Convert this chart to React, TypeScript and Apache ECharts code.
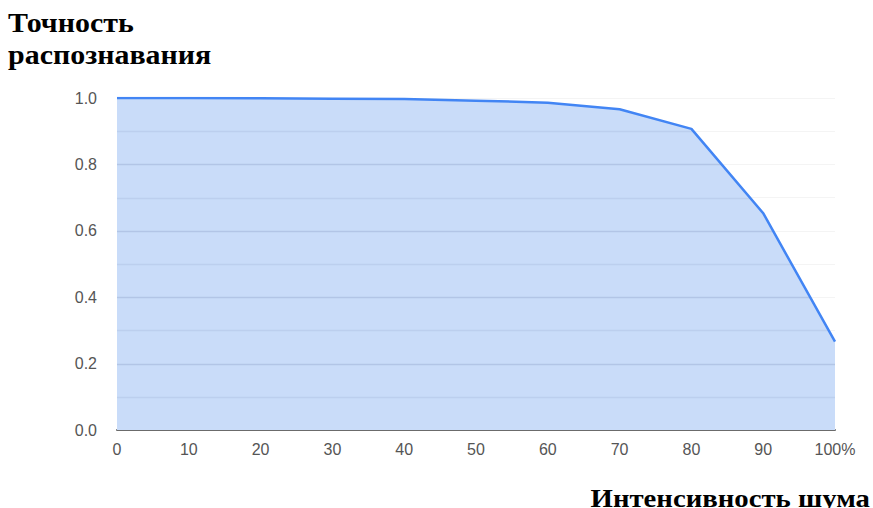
import React, { useEffect, useRef } from "react";
import * as echarts from "echarts";

const noiseLevels = [0, 10, 20, 30, 40, 50, 60, 70, 80, 90, 100];
const accuracy = [1.0, 1.0, 0.999, 0.998, 0.997, 0.992, 0.986, 0.966, 0.907, 0.653, 0.266];
const gridLevels = [0.1, 0.2, 0.3, 0.4, 0.5, 0.6, 0.7, 0.8, 0.9];
const yTitleLines = ["Точность", "распознавания"];
const xTitle = "Интенсивность шума";

function crossX(level: number): number {
  for (let i = 0; i < accuracy.length - 1; i++) {
    const a = accuracy[i];
    const b = accuracy[i + 1];
    if ((a >= level && b <= level) || (a <= level && b >= level)) {
      if (a === b) return noiseLevels[i + 1];
      const t = (a - level) / (a - b);
      return noiseLevels[i] + t * (noiseLevels[i + 1] - noiseLevels[i]);
    }
  }
  return noiseLevels[noiseLevels.length - 1];
}

export default function App() {
  const ref = useRef<HTMLDivElement>(null);
  useEffect(() => {
    if (!ref.current) return;
    const chart = echarts.init(ref.current, undefined, { renderer: "svg" });
    const labelFont = "Liberation Sans";
    chart.setOption({
      animation: false,
      backgroundColor: "#ffffff",
      grid: { left: 117, right: 38, top: 98, bottom: 78, containLabel: false },
      xAxis: {
        type: "value",
        min: 0,
        max: 100,
        interval: 10,
        axisLine: { show: true, lineStyle: { color: "#6b6b6b", width: 2 } },
        axisTick: { show: false },
        splitLine: { show: false },
        axisLabel: {
          color: "#555555",
          fontFamily: labelFont,
          fontSize: 16,
          margin: 11,
          formatter: (v: number) => (v === 100 ? "100%" : String(v)),
        },
      },
      yAxis: {
        type: "value",
        min: 0,
        max: 1,
        interval: 0.1,
        axisLine: { show: false },
        axisTick: { show: false },
        splitLine: { show: true, lineStyle: { color: "#f4f4f4", width: 1 } },
        axisLabel: {
          color: "#555555",
          fontFamily: labelFont,
          fontSize: 16,
          margin: 20,
          formatter: (v: number) => {
            const k = Math.round(v * 10);
            return k % 2 === 0 ? (k / 10).toFixed(1) : "";
          },
        },
      },
      series: [
        {
          type: "line",
          data: noiseLevels.map((x, i) => [x, accuracy[i]]),
          showSymbol: false,
          lineStyle: { width: 0, opacity: 0 },
          areaStyle: { color: "#c9dcf9", opacity: 1 },
          z: 1,
          silent: true,
        },
        {
          type: "custom",
          data: gridLevels.map((v) => [0, v]),
          z: 2,
          silent: true,
          renderItem: (params: any, api: any) => {
            const level = api.value(1);
            const p0 = api.coord([0, level]);
            const p1 = api.coord([crossX(level), level]);
            const major = Math.round(level * 10) % 2 === 0;
            return {
              type: "line",
              shape: { x1: p0[0], y1: Math.round(p0[1]) + 0.5, x2: p1[0], y2: Math.round(p1[1]) + 0.5 },
              style: { stroke: major ? "#b2c5e6" : "#bccfee", lineWidth: 1.5 },
            };
          },
        },
        {
          type: "line",
          data: noiseLevels.map((x, i) => [x, accuracy[i]]),
          showSymbol: false,
          lineStyle: { color: "#4285f4", width: 2.5 },
          z: 3,
          silent: true,
        },
      ],
      graphic: [
        {
          type: "text",
          x: 8,
          y: 22,
          scaleX: 1.07,
          style: { text: yTitleLines[0], font: "bold 28px 'Liberation Serif'", fill: "#000", textAlign: "left", textVerticalAlign: "middle" },
        },
        {
          type: "text",
          x: 8,
          y: 54,
          scaleX: 1.07,
          style: { text: yTitleLines[1], font: "bold 28px 'Liberation Serif'", fill: "#000", textAlign: "left", textVerticalAlign: "middle" },
        },
        {
          type: "text",
          x: 870,
          y: 499,
          scaleX: 1.15,
          style: { text: xTitle, font: "bold 25px 'Liberation Serif'", fill: "#000", textAlign: "right", textVerticalAlign: "middle" },
        },
      ],
    });
    return () => chart.dispose();
  }, []);
  return <div ref={ref} style={{ width: 873, height: 508, position: "absolute", left: 0, top: 0 }} />;
}
